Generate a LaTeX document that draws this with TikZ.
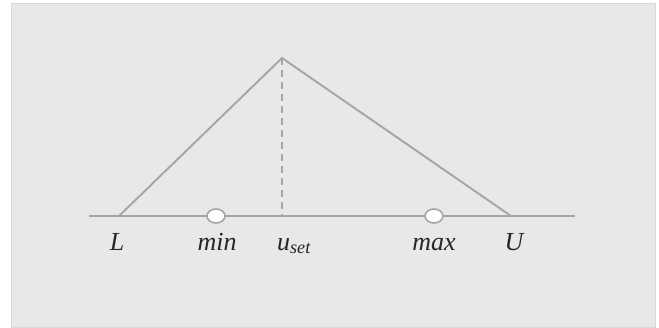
\documentclass[tikz,border=0pt]{standalone}
\usepackage{fontspec}
\setmainfont{Liberation Serif}
\usetikzlibrary{shapes.geometric}
\begin{document}
\begin{tikzpicture}[x=1pt,y=-1pt,
  ln/.style={draw=lnc,line width=1.9pt},
  knob/.style={ellipse,draw=lnc,line width=1.6pt,fill=white,minimum width=18pt,minimum height=14pt,inner sep=0pt},
  lab/.style={font=\fontsize{26}{30}\selectfont\itshape,text=black!85,inner sep=0pt,anchor=base}]
\definecolor{lnc}{RGB}{165,165,165}
\definecolor{bg}{RGB}{232,232,232}
\useasboundingbox (0,0) rectangle (659,327);
\fill[white] (0,0) rectangle (659,327);
\filldraw[fill=bg,draw=black!15,line width=0.5pt] (11,3.5) rectangle (655,327);
\coordinate (a) at (89,216);
\coordinate (b) at (575,216);
\coordinate (Lp) at (119,216);
\coordinate (Up) at (511,216);
\coordinate (top) at (282,58);
\coordinate (base) at (282,216);
\draw[ln] (a) -- (b);
\draw[ln] (Lp) -- (top) -- (Up);
\draw[ln,dashed,dash pattern=on 7pt off 5pt] (top) -- (base);
\node[knob] (min) at (216,216) {};
\node[knob] (max) at (434,216) {};
\node[lab] (lL) at (117,250) {L};
\node[lab] (lmin) at (217,250) {min};
\node[lab] (lu) at (294,250) {u\textsubscript{set}};
\node[lab] (lmax) at (434,250) {max};
\node[lab] (lU) at (514,250) {U};
\end{tikzpicture}
\end{document}
